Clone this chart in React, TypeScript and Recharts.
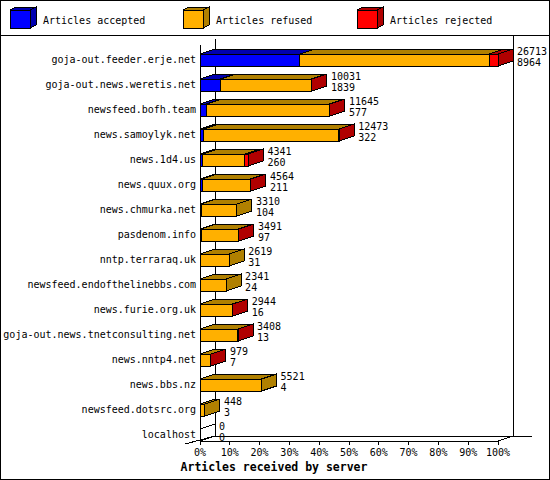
import { Bar, BarChart, Customized, LabelList, XAxis, YAxis } from "recharts";

const SERVERS = [
  "goja-out.feeder.erje.net",
  "goja-out.news.weretis.net",
  "newsfeed.bofh.team",
  "news.samoylyk.net",
  "news.1d4.us",
  "news.quux.org",
  "news.chmurka.net",
  "pasdenom.info",
  "nntp.terraraq.uk",
  "newsfeed.endofthelinebbs.com",
  "news.furie.org.uk",
  "goja-out.news.tnetconsulting.net",
  "news.nntp4.net",
  "news.bbs.nz",
  "newsfeed.dotsrc.org",
  "localhost"
];
const ACCEPTED = [8964, 1839, 577, 322, 260, 211, 104, 97, 31, 24, 16, 13, 7, 4, 3, 0];
const REFUSED = [16969, 8132, 11023, 12111, 3741, 4318, 3206, 3364, 2588, 2317, 2908, 3375, 957, 5517, 445, 0];
const REJECTED = [780, 60, 45, 40, 340, 35, 0, 30, 0, 0, 20, 20, 15, 0, 0, 0];
const PCT_TICKS = [0, 10, 20, 30, 40, 50, 60, 70, 80, 90, 100];

const KEYS = ["accepted", "refused", "rejected"];
const LEGEND = ["Articles accepted", "Articles refused", "Articles rejected"];
const COLORS: Record<string, [string, string]> = {
  accepted: ["#0000ff", "#0000b0"],
  refused: ["#ffb000", "#b08000"],
  rejected: ["#ff0000", "#b00000"]
};

const rows = SERVERS.map((name, i) => ({
  name,
  accepted: ACCEPTED[i],
  refused: REFUSED[i],
  rejected: REJECTED[i],
  total: ACCEPTED[i] + REFUSED[i] + REJECTED[i]
}));
const MAX = Math.max(...rows.map((r) => r.total));

// layout
const FONT = "'DejaVu Sans Mono', 'Liberation Mono', monospace";
const DX = 15;
const DY = 5;
const FLOOR_Y = 441;
const PLOT_L = 200;
const PLOT_R = 498;

const box3d = (key: string) => (p: any) => {
  const { x, y, width: w, height: h, payload } = p;
  const [front, dark] = COLORS[key];
  const idx = KEYS.indexOf(key);
  const later = KEYS.slice(idx + 1).some((k) => payload[k] > 0);
  const empty = payload.total === 0 && idx === KEYS.length - 1;
  const isLast = !later && (payload[key] > 0 || empty);
  return (
    <g stroke="#000" strokeWidth={1} shapeRendering="crispEdges">
      {w > 0 && (
        <polygon
          points={`${x},${y} ${x + DX},${y - DY} ${x + w + DX},${y - DY} ${x + w},${y}`}
          fill={dark}
        />
      )}
      {w > 0 && <rect x={x} y={y} width={w} height={h} fill={front} />}
      {isLast && (
        <polygon
          points={`${x + w},${y} ${x + w + DX},${y - DY} ${x + w + DX},${y + h - DY} ${x + w},${y + h}`}
          fill={empty ? "none" : dark}
        />
      )}
    </g>
  );
};

const ValueLabel = (p: any) => {
  const vb = p.viewBox || p;
  const i = p.index;
  const row = rows[i];
  if (!row) return null;
  const tx = vb.x + vb.width + DX + 4;
  const cy = vb.y + vb.height / 2;
  return (
    <g fontFamily={FONT} fontSize={10} fill="#000">
      <text x={tx} y={cy - 5.5}>{row.total}</text>
      <text x={tx} y={cy + 6}>{row.accepted}</text>
    </g>
  );
};

const XTick = (p: any) => {
  const pct = Math.round((p.payload.value / MAX) * 100);
  return (
    <g>
      <line x1={p.x} x2={p.x} y1={FLOOR_Y} y2={FLOOR_Y + 4} stroke="#000" shapeRendering="crispEdges" />
      <text x={p.x} y={FLOOR_Y + 15} textAnchor="middle" fontFamily={FONT} fontSize={10} fill="#000">
        {pct}%
      </text>
    </g>
  );
};

const Frame = () => (
  <g stroke="#000" strokeWidth={1} fill="none" shapeRendering="crispEdges">
    <rect x={0.5} y={0.5} width={549} height={479} />
    <line x1={0} x2={550} y1={35.5} y2={35.5} />
    {KEYS.map((k, i) => {
      const bx = [10, 183, 357][i];
      const [front, dark] = COLORS[k];
      return (
        <g key={k}>
          <polygon points={`${bx},10 ${bx + 6},7 ${bx + 26},7 ${bx + 20},10`} fill={dark} />
          <polygon points={`${bx + 20},10 ${bx + 26},7 ${bx + 26},25 ${bx + 20},28`} fill={dark} />
          <rect x={bx} y={10} width={20} height={18} fill={front} />
          <text x={bx + 33} y={23.5} stroke="none" fill="#000" fontFamily={FONT} fontSize={10}>
            {LEGEND[i]}
          </text>
        </g>
      );
    })}
    <line x1={PLOT_L + 0.5} x2={PLOT_L + 0.5} y1={45} y2={FLOOR_Y} />
    <line x1={PLOT_L + DX + 0.5} x2={PLOT_L + DX + 0.5} y1={39} y2={FLOOR_Y - DY} />
    <line x1={PLOT_R + DX + 0.5} x2={PLOT_R + DX + 0.5} y1={35} y2={FLOOR_Y - DY} />
    <line x1={PLOT_L + DX} x2={532} y1={FLOOR_Y - DY + 0.5} y2={FLOOR_Y - DY + 0.5} />
    <line x1={PLOT_L} x2={PLOT_R} y1={FLOOR_Y + 0.5} y2={FLOOR_Y + 0.5} />
    <line x1={PLOT_R} x2={PLOT_R + DX} y1={FLOOR_Y} y2={FLOOR_Y - DY} />
    <line x1={185} x2={PLOT_L + DX} y1={FLOOR_Y + 3} y2={FLOOR_Y - DY} />
    <text
      x={274}
      y={471}
      textAnchor="middle"
      stroke="none"
      fill="#000"
      fontFamily={FONT}
      fontSize={11.5}
      fontWeight="bold"
    >
      Articles received by server
    </text>
  </g>
);

export default function App() {
  return (
    <div style={{ position: "absolute", left: 0, top: 0, width: 550, height: 480, background: "#fff" }}>
      <BarChart
        width={550}
        height={480}
        data={rows}
        layout="vertical"
        barSize={12}
        margin={{ top: 47, right: 52, bottom: 0, left: 0 }}
      >
        <Customized component={Frame} />
        <XAxis
          type="number"
          domain={[0, MAX]}
          ticks={PCT_TICKS.map((p) => (MAX * p) / 100)}
          height={33}
          axisLine={false}
          tickLine={false}
          interval={0}
          tick={XTick}
        />
        <YAxis
          type="category"
          dataKey="name"
          width={200}
          axisLine={false}
          tickLine={false}
          tickSize={0}
          tickMargin={4}
          interval={0}
          tick={{ fontFamily: FONT, fontSize: 10, fill: "#000" }}
        />
        {KEYS.map((k) => (
          <Bar key={k} dataKey={k} stackId="a" shape={box3d(k)} isAnimationActive={false}>
            {k === "rejected" && <LabelList dataKey="total" content={ValueLabel} />}
          </Bar>
        ))}
      </BarChart>
    </div>
  );
}
